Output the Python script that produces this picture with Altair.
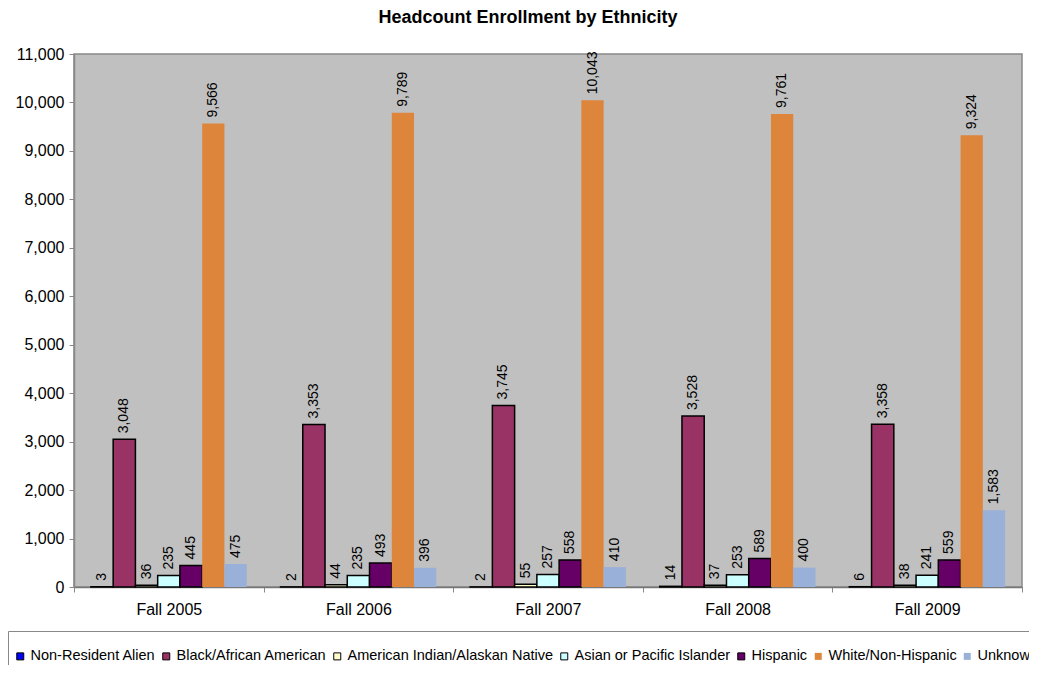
import altair as alt
import pandas as pd

years = ["Fall 2005", "Fall 2006", "Fall 2007", "Fall 2008", "Fall 2009"]
groups = [
    "Non-Resident Alien",
    "Black/African American",
    "American Indian/Alaskan Native",
    "Asian or Pacific Islander",
    "Hispanic",
    "White/Non-Hispanic",
    "Unknown",
]
non_resident = [3, 2, 2, 14, 6]
black = [3048, 3353, 3745, 3528, 3358]
am_indian = [36, 44, 55, 37, 38]
asian = [235, 235, 257, 253, 241]
hispanic = [445, 493, 558, 589, 559]
white = [9566, 9789, 10043, 9761, 9324]
unknown = [475, 396, 410, 400, 1583]

colors = ["#0000FF", "#993366", "#FFFFCC", "#CCFFFF", "#660066", "#DE853C", "#99B0D8"]
strokes = ["black", "black", "black", "black", "black", "transparent", "transparent"]

series = [non_resident, black, am_indian, asian, hispanic, white, unknown]
rows = []
for g, vals in zip(groups, series):
    for y, v in zip(years, vals):
        rows.append({"year": y, "group": g, "value": v})
df = pd.DataFrame(rows)

FONT = "Liberation Sans"

legend = alt.Legend(
    title=" ",
    titleFontSize=13,
    titlePadding=0,
    orient="none",
    legendX=-66,
    legendY=577,
    direction="horizontal",
    columns=7,
    symbolType="square",
    symbolSize=49,
    symbolStrokeWidth=1,
    labelFont=FONT,
    labelFontSize=14.5,
    labelColor="black",
    labelOffset=3,
    labelLimit=400,
    columnPadding=3,
    padding=5,
    strokeColor="#888888",
    fillColor="white",
)

base = alt.Chart(df).encode(
    x=alt.X(
        "year:N",
        sort=years,
        scale=alt.Scale(paddingInner=0, paddingOuter=0),
        axis=alt.Axis(
            title=None,
            tickBand="extent",
            labelAngle=0,
            labelFont=FONT,
            labelFontSize=16,
            labelColor="black",
            labelPadding=9,
            tickSize=5,
            tickColor="#888888",
            domainColor="#777777",
            domainWidth=1.5,
        ),
    ),
    xOffset=alt.XOffset(
        "group:N", sort=groups, scale=alt.Scale(domain=groups, paddingInner=0, paddingOuter=0.76)
    ),
    y=alt.Y(
        "value:Q",
        scale=alt.Scale(domain=[0, 11000], nice=False),
        axis=alt.Axis(
            title=None,
            values=list(range(0, 11001, 1000)),
            format=",d",
            grid=False,
            labelFont=FONT,
            labelFontSize=16,
            labelColor="black",
            labelPadding=5,
            tickSize=5,
            tickColor="#888888",
            domainColor="#888888",
            domainWidth=1.5,
        ),
    ),
)

bars = base.mark_bar(strokeWidth=1.5).encode(
    fill=alt.Fill("group:N", sort=groups, scale=alt.Scale(domain=groups, range=colors), legend=legend),
    stroke=alt.Stroke("group:N", sort=groups, scale=alt.Scale(domain=groups, range=strokes), legend=legend),
)

labels = base.mark_text(
    angle=270, align="left", baseline="middle", dx=6, font=FONT, fontSize=14, color="black"
).encode(text=alt.Text("value:Q", format=",d"))

chart = (
    (bars + labels)
    .properties(
        width=948,
        height=533,
        title=alt.TitleParams(
            "Headcount Enrollment by Ethnicity",
            font=FONT,
            fontSize=18,
            fontWeight="bold",
            color="black",
            offset=19,
            dx=-20,
            anchor="middle",
        ),
        autosize=alt.AutoSizeParams(type="none"),
        padding={"left": 66, "top": 46, "right": 7, "bottom": 78},
    )
    .configure_view(fill="#C0C0C0", stroke="#888888", strokeWidth=1.5)
)

chart.save("out.html", embed_options={"renderer": "svg", "actions": False})
